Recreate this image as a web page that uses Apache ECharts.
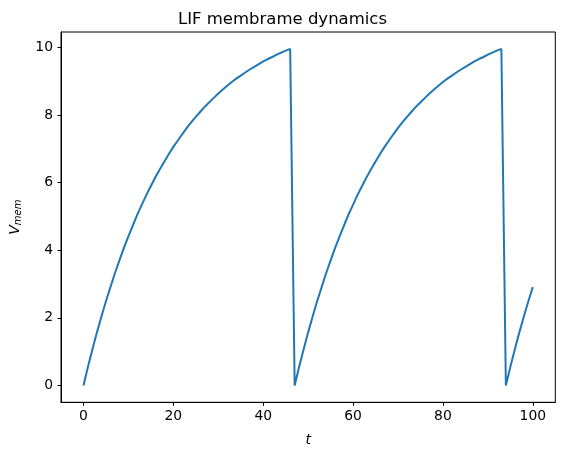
<!DOCTYPE html>
<html>
<head>
<meta charset="utf-8">
<script src="https://cdn.jsdelivr.net/npm/echarts@6/dist/echarts.min.js"></script>
<style>
  html, body { margin: 0; padding: 0; background: #fff; }
  #main { width: 565px; height: 455px; }
</style>
</head>
<body>
<div id="main"></div>
<script>
// membrane potential, one value per time step t = 0..100
const vmem = [
    0, 0.55, 1.07, 1.57, 2.04, 2.49, 2.91, 3.32, 3.70, 4.07,
    4.41, 4.74, 5.06, 5.35, 5.64, 5.90, 6.16, 6.40, 6.63, 6.85,
    7.06, 7.25, 7.44, 7.62, 7.79, 7.95, 8.10, 8.25, 8.38, 8.51,
    8.64, 8.76, 8.87, 8.98, 9.08, 9.17, 9.26, 9.35, 9.43, 9.51,
    9.59, 9.66, 9.72, 9.79, 9.85, 9.91, 9.96,
    0, 0.55, 1.07, 1.57, 2.04, 2.49, 2.91, 3.32, 3.70, 4.07,
    4.41, 4.74, 5.06, 5.35, 5.64, 5.90, 6.16, 6.40, 6.63, 6.85,
    7.06, 7.25, 7.44, 7.62, 7.79, 7.95, 8.10, 8.25, 8.38, 8.51,
    8.64, 8.76, 8.87, 8.98, 9.08, 9.17, 9.26, 9.35, 9.43, 9.51,
    9.59, 9.66, 9.72, 9.79, 9.85, 9.91, 9.96,
    0, 0.55, 1.07, 1.57, 2.04, 2.49, 2.91
];
const xTicks = [0, 20, 40, 60, 80, 100];
const yTicks = [0, 2, 4, 6, 8, 10];

const font = 'DejaVu Sans';
const chart = echarts.init(document.getElementById('main'), null, { renderer: 'canvas' });

const option = {
    animation: false,
    backgroundColor: '#fff',
    title: {
        text: 'LIF membrame dynamics',
        left: 'center',
        top: 6,
        textStyle: { fontFamily: font, fontSize: 16.5, fontWeight: 'normal', color: '#000' }
    },
    grid: {
        left: 59.5, right: 9.7, top: 32, bottom: 52.7,
        show: true, borderColor: '#000', borderWidth: 1, backgroundColor: '#fff'
    },
    xAxis: {
        type: 'value',
        min: -5, max: 105,
        name: 't',
        nameLocation: 'middle',
        nameGap: 31,
        nameTextStyle: { fontFamily: font, fontSize: 14, fontStyle: 'italic', color: '#000' },
        axisLine: { show: true, onZero: false, lineStyle: { color: '#000', width: 1 } },
        axisTick: { show: true, length: 3.5, lineStyle: { color: '#000', width: 1 }, customValues: xTicks },
        axisLabel: { fontFamily: font, fontSize: 13.9, color: '#000', margin: 7, customValues: xTicks },
        splitLine: { show: false }
    },
    yAxis: {
        type: 'value',
        min: -0.5, max: 10.46,
        name: '{v|V}{s|mem}',
        nameLocation: 'middle',
        nameRotate: 90,
        nameGap: 38,
        nameTextStyle: {
            rich: {
                v: { fontFamily: font, fontSize: 14, fontStyle: 'italic', color: '#000' },
                s: { fontFamily: font, fontSize: 10, fontStyle: 'italic', color: '#000', verticalAlign: 'bottom', padding: [6, 0, 0, 0] }
            }
        },
        axisLine: { show: true, onZero: false, lineStyle: { color: '#000', width: 1 } },
        axisTick: { show: true, length: 3.5, lineStyle: { color: '#000', width: 1 }, customValues: yTicks },
        axisLabel: { fontFamily: font, fontSize: 13.9, color: '#000', margin: 8, customValues: yTicks },
        splitLine: { show: false }
    },
    series: [
        {
            type: 'line',
            data: vmem.map((v, t) => [t, v]),
            showSymbol: false,
            symbol: 'none',
            lineStyle: { color: '#1f77b4', width: 2 },
            itemStyle: { color: '#1f77b4' }
        }
    ]
};
chart.setOption(option);
</script>
</body>
</html>
